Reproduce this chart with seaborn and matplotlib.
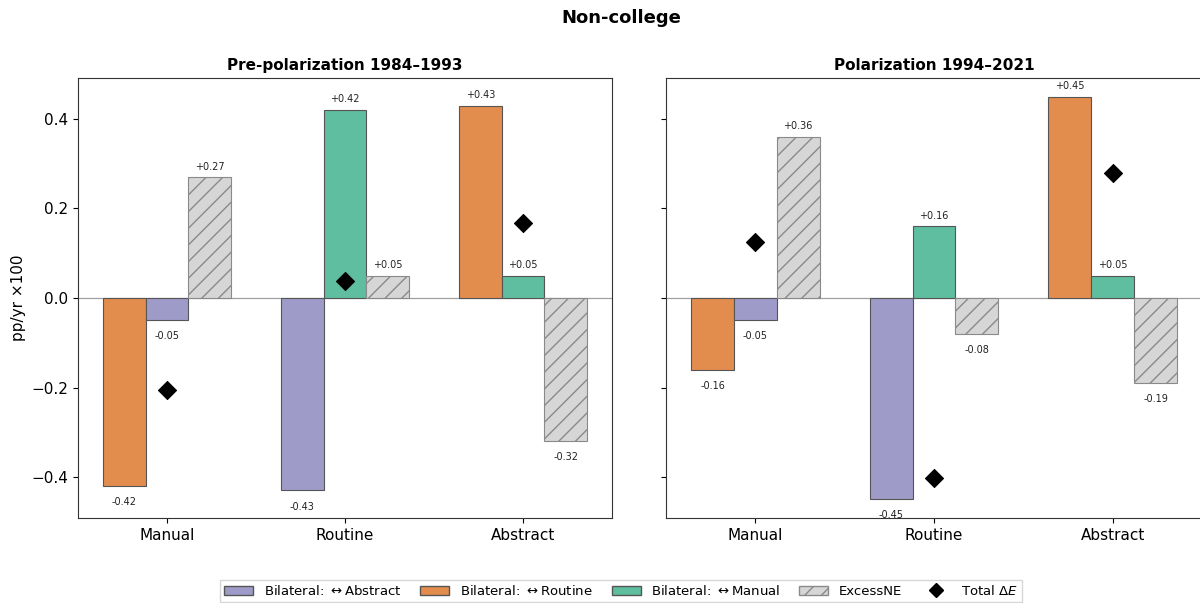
import numpy as np
import matplotlib
matplotlib.use("Agg")
import matplotlib.pyplot as plt
import seaborn as sns
from matplotlib.patches import Patch
from matplotlib.lines import Line2D

sns.set_style("ticks")
plt.rcParams["font.family"] = ["DejaVu Sans"]
plt.rcParams.update({"text.color": "black", "axes.labelcolor": "black",
                     "xtick.color": "black", "ytick.color": "black"})

# --- data -------------------------------------------------------------
occupations = ["Manual", "Routine", "Abstract"]
periods = ["Pre-polarization 1984\u20131993", "Polarization 1994\u20132021"]

# bilateral flows with each partner occupation (None = own occupation)
flow_abstract = [[-0.05, -0.43, None], [-0.05, -0.45, None]]
flow_routine = [[-0.42, None, 0.43], [-0.16, None, 0.45]]
flow_manual = [[None, 0.42, 0.05], [None, 0.16, 0.05]]
excess_ne = [[0.27, 0.05, -0.32], [0.36, -0.08, -0.19]]
total_de = [[-0.205, 0.037, 0.167], [0.125, -0.403, 0.279]]

# --- styling ----------------------------------------------------------
c_abs = "#9f9bc9"
c_rout = "#e28d4e"
c_man = "#5fbda0"
c_exc = "#d6d6d6"
bar_w = 0.24
edge = "#555555"
plt.rcParams["hatch.color"] = "#8a8a8a"

fig = plt.figure(figsize=(12, 6.03), dpi=100)
W, H = 1200, 603
ax_l = fig.add_axes([78 / W, (H - 518) / H, 534 / W, 440 / H])
ax_r = fig.add_axes([666 / W, (H - 518) / H, 536 / W, 440 / H], sharey=ax_l)


def label_bar(ax, x, v):
    txt = f"{v:+.2f}" if v > 0 else f"{v:.2f}"
    if v >= 0:
        ax.annotate(txt, (x, v), xytext=(0, 4), textcoords="offset points",
                    ha="center", va="bottom", fontsize=7, color="#222222")
    else:
        ax.annotate(txt, (x, v), xytext=(0, -8), textcoords="offset points",
                    ha="center", va="top", fontsize=7, color="#222222")


for p, ax in enumerate([ax_l, ax_r]):
    ax.axhline(0, color="#a0a0a0", lw=0.9, zorder=1)
    comps = [
        (flow_routine[p], dict(color=c_rout, edgecolor=edge)),
        (flow_abstract[p], dict(color=c_abs, edgecolor=edge)),
        (flow_manual[p], dict(color=c_man, edgecolor=edge)),
        (excess_ne[p], dict(color=c_exc, edgecolor="#8a8a8a", hatch="//")),
    ]
    for i, occ in enumerate(occupations):
        present = [(vals[i], kw) for vals, kw in comps if vals[i] is not None]
        n = len(present)
        for k, (v, kw) in enumerate(present):
            x = i + (k - (n - 1) / 2) * bar_w
            ax.bar(x, v, width=bar_w, linewidth=0.8, zorder=2, **kw)
            label_bar(ax, x, v)
    sns.scatterplot(x=np.arange(len(occupations)), y=total_de[p], ax=ax,
                    marker="D", s=85, color="black", edgecolor="black",
                    zorder=4, legend=False)
    ax.set_xticks(range(len(occupations)))
    ax.set_xticklabels(occupations, fontsize=11)
    ax.set_xlim(-0.5, 2.5)
    ax.set_title(periods[p], fontsize=11, fontweight="bold", pad=6)
    for s in ax.spines.values():
        s.set_color("#333333")
    ax.tick_params(axis="y", labelsize=11)

ax_l.set_ylim(-0.4916, 0.4916)
ax_l.set_yticks([-0.4, -0.2, 0.0, 0.2, 0.4])
ax_l.set_ylabel("pp/yr \u00d7100", fontsize=11)
ax_r.tick_params(axis="y", labelleft=False)

fig.suptitle("Non-college", x=621 / W, y=1 - 18 / H, va="center",
             fontsize=13, fontweight="bold")

handles = [
    Patch(facecolor=c_abs, edgecolor=edge, label=r"Bilateral: $\leftrightarrow$Abstract"),
    Patch(facecolor=c_rout, edgecolor=edge, label=r"Bilateral: $\leftrightarrow$Routine"),
    Patch(facecolor=c_man, edgecolor=edge, label=r"Bilateral: $\leftrightarrow$Manual"),
    Patch(facecolor=c_exc, edgecolor="#8a8a8a", hatch="//", label="ExcessNE"),
    Line2D([], [], marker="D", color="black", linestyle="none", markersize=7,
           label=r"Total $\Delta E$"),
]
fig.legend(handles=handles, loc="center", bbox_to_anchor=(621 / W, 1 - 591 / H),
           ncol=5, fontsize=9.5, frameon=True, fancybox=False, edgecolor="#cccccc",
           handlelength=2.2, columnspacing=1.45, borderpad=0.3)

fig.savefig("out.png", dpi=100)
